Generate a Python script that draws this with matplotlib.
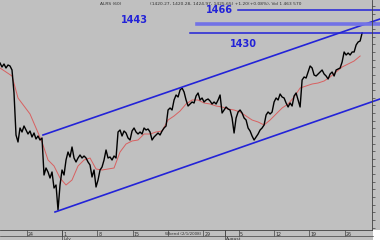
import numpy as np
import matplotlib
matplotlib.use("Agg")
import matplotlib.pyplot as plt
from matplotlib.lines import Line2D

# ALRS intraday close, one sample every ~0.28 trading day, day 0 = 1 July
day_start = -8.77
day_step = 0.283
price = [1381.2, 1374.8, 1379.6, 1373.2, 1378.0, 1376.4, 1370.0, 1333.2, 1266.0, 1254.8,
         1277.2, 1270.8, 1280.4, 1274.0, 1267.6, 1272.4, 1262.8, 1269.2, 1259.6, 1264.4,
         1258.0, 1261.2, 1202.0, 1213.2, 1206.8, 1197.2, 1206.8, 1181.2, 1186.0, 1146.0,
         1186.0, 1210.0, 1202.0, 1226.0, 1238.8, 1230.8, 1246.8, 1229.2, 1222.8, 1229.2,
         1234.0, 1229.2, 1232.4, 1229.2, 1222.8, 1218.0, 1198.8, 1210.0, 1182.8, 1194.0,
         1210.0, 1214.8, 1226.0, 1242.0, 1229.2, 1230.8, 1226.0, 1232.4, 1229.2, 1270.8,
         1274.0, 1264.4, 1272.4, 1269.2, 1261.2, 1258.0, 1272.4, 1277.2, 1270.8, 1267.6,
         1270.8, 1267.6, 1277.2, 1274.0, 1275.6, 1270.8, 1258.0, 1262.8, 1266.0, 1269.2,
         1266.0, 1272.4, 1277.2, 1280.4, 1306.0, 1309.2, 1306.0, 1322.0, 1330.0, 1326.8,
         1338.0, 1341.2, 1334.8, 1322.0, 1312.4, 1315.6, 1318.8, 1317.2, 1328.4, 1333.2,
         1322.0, 1325.2, 1318.8, 1322.0, 1323.6, 1320.4, 1315.6, 1318.8, 1315.6, 1322.0,
         1330.0, 1301.2, 1306.0, 1310.8, 1307.6, 1306.0, 1293.2, 1269.2, 1293.2, 1302.8,
         1306.0, 1301.2, 1293.2, 1290.0, 1277.2, 1272.4, 1264.4, 1258.0, 1262.8, 1267.6,
         1274.0, 1277.2, 1282.0, 1298.0, 1302.8, 1299.6, 1302.8, 1318.8, 1325.2, 1322.0,
         1331.6, 1326.8, 1325.2, 1317.2, 1310.8, 1317.2, 1312.4, 1328.4, 1333.2, 1322.0,
         1310.8, 1354.0, 1358.8, 1357.2, 1366.8, 1376.4, 1373.2, 1362.0, 1360.4, 1363.6,
         1366.8, 1370.0, 1363.6, 1360.4, 1355.6, 1363.6, 1366.8, 1360.4, 1370.0, 1371.6,
         1373.2, 1382.8, 1398.8, 1394.0, 1397.2, 1394.0, 1398.8, 1398.8, 1410.0, 1414.8,
         1416.4, 1429.2]

# moving average, every 3rd sample
ma = [1373.2, 1366.8, 1360.4, 1325.2, 1312.4, 1299.6, 1277.2, 1254.8, 1226.0, 1216.4,
      1197.2, 1186.0, 1194.0, 1216.4, 1226.0, 1229.2, 1211.6, 1210.0, 1211.6, 1213.2,
      1238.8, 1251.6, 1256.4, 1258.0, 1267.6, 1267.6, 1270.8, 1272.4, 1290.0, 1296.4,
      1304.4, 1315.6, 1322.0, 1322.0, 1317.2, 1315.6, 1312.4, 1310.8, 1307.6, 1306.0,
      1302.8, 1296.4, 1290.0, 1286.8, 1282.0, 1290.0, 1299.6, 1309.2, 1315.6, 1326.8,
      1341.2, 1344.4, 1347.6, 1349.2, 1352.4, 1358.8, 1366.8, 1374.8, 1379.6, 1384.4,
      1392.4]

# trend channel (day, price)
upper_days = [-2.69, 44.98]
upper_vals = [1266.0, 1451.6]
lower_days = [-0.99, 44.98]
lower_vals = [1142.8, 1323.6]

# levels
levels = [1466, 1443, 1430]
level_start = [24.9, 19.1, 18.1]
level_label_pos = [(22.3, 1466), (10.2, 1450), (25.7, 1411.6)]

# date axis
tick_days = [-5, 0, 5, 10, 15, 20, 23, 25, 30, 35, 40]
tick_text = ["24", "1", "8", "15", "", "29", "", "5", "12", "19", "26"]
month_days = [0, 23]
month_text = ["July", "August"]

t = day_start + np.arange(len(price)) * day_step
t_ma = t[::3][:len(ma)]

BG = "#c0c0c0"
BLUE = "#2323d8"
W, H = 380, 240

fig = plt.figure(figsize=(3.8, 2.4), dpi=100, facecolor=BG)
ax = fig.add_axes([0, 10 / H, 372 / W, 230 / H], facecolor=BG)

ax.plot(t_ma, ma, color="#d86060", lw=0.7)
ax.plot(t, price, color="black", lw=1.0)

ax.plot(upper_days, upper_vals, color=BLUE, lw=1.2, clip_on=False)
ax.plot(lower_days, lower_vals, color=BLUE, lw=1.2, clip_on=False)
for lv, st in zip(levels, level_start):
    if lv == 1443:
        ax.plot([st, 44.98], [lv, lv], color="#7272e6", lw=2.6, clip_on=False)
    else:
        ax.plot([st, 44.98], [lv, lv], color=BLUE, lw=1.1, clip_on=False)
for lv, (x, y) in zip(levels, level_label_pos):
    ax.text(x, y, str(lv), color=BLUE, fontsize=7, fontweight="bold",
            ha="center", va="center")

ax.text(5.4, 1476, "ALRS (60)", fontsize=3.2, color="#303030", va="center")
ax.text(12.4, 1476, "(1420.27, 1420.28, 1424.97, 1425.65) +1.20(+0.08%), Vol 1 463 570",
        fontsize=3.2, color="#303030", va="center")

ax.set_xlim(-8.77, 43.85)
ax.set_ylim(1482 - 1.6 * 230, 1482)

for s in ["left", "top"]:
    ax.spines[s].set_visible(False)
ax.spines["right"].set_color("#404040")
ax.spines["bottom"].set_color("#404040")
ax.spines["right"].set_linewidth(0.6)
ax.spines["bottom"].set_linewidth(0.6)

ax.yaxis.tick_right()
ax.set_yticks(np.arange(1118, 1482, 12.2))
ax.tick_params(axis="y", direction="out", length=2.5, width=0.5, colors="#404040",
               labelright=False)

ax.set_xticks(tick_days)
ax.tick_params(axis="x", direction="out", length=4.3, width=0.5, colors="#404040",
               labelbottom=False)
trans = ax.get_xaxis_transform()
for d, lab in zip(tick_days, tick_text):
    ax.text(d + 0.15, -0.01, lab, transform=trans, fontsize=3.4, color="#303030",
            ha="left", va="top", clip_on=False)
ax.text(14.6, -0.01, "Wkend (2/1/2008)", transform=trans, fontsize=2.9,
        color="#303030", ha="left", va="top", clip_on=False)
for d, lab in zip(month_days, month_text):
    ax.plot([d, d], [0, -0.045], transform=trans, color="#404040", lw=0.5, clip_on=False)
    ax.text(d + 0.15, -0.031, lab, transform=trans, fontsize=3.2, color="#303030",
            ha="left", va="top", clip_on=False)

# strip under the date labels and white corner
fig.add_artist(Line2D([0, 373 / W], [1 - 236 / H, 1 - 236 / H], color="#404040", lw=0.5))
fig.patches.append(plt.Rectangle((373 / W, 0), 7 / W, 10 / H, transform=fig.transFigure,
                                 facecolor="white", edgecolor="none"))

fig.savefig("out.png", dpi=100, facecolor=BG)
